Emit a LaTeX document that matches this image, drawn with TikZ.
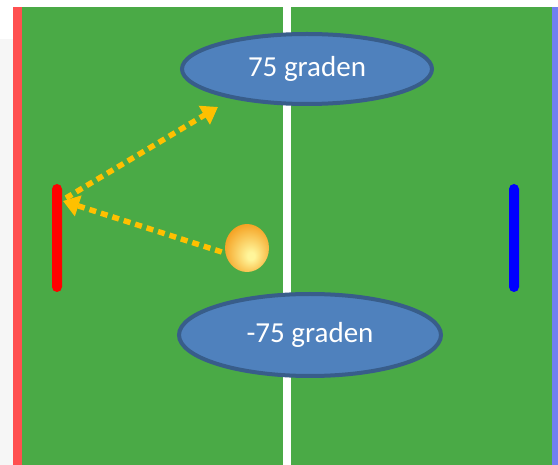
\documentclass[tikz,border=0pt]{standalone}
\usepackage{fontspec}
\setmainfont{Carlito}
\usetikzlibrary{arrows.meta,shapes.geometric}
\definecolor{field}{HTML}{4AAA46}
\definecolor{redstrip}{HTML}{FF5050}
\definecolor{bluestrip}{HTML}{7080F0}
\definecolor{ellfill}{HTML}{4F81BD}
\definecolor{elldraw}{HTML}{385D8A}
\definecolor{arrowc}{HTML}{FFC000}
\definecolor{ballin}{HTML}{FFF59A}
\definecolor{ballout}{HTML}{F5A020}
\definecolor{sidegray}{HTML}{F6F6F6}
\pgfdeclareradialshading{ballsh}{\pgfpoint{5bp}{-9bp}}{color(0bp)=(ballin); color(4bp)=(ballin); color(30bp)=(ballout); color(50bp)=(ballout)}
\tikzset{
  label ellipse/.style={ellipse, draw=elldraw, line width=4pt, fill=ellfill, text=white, font=\fontsize{29}{32}\selectfont, inner sep=0pt},
  paddle/.style={rectangle, rounded corners=5pt, minimum width=10pt, inner sep=0pt, draw=none},
  dotarrow/.style={arrowc, line width=5.5pt, dash pattern=on 7pt off 5pt, -{Triangle[width=21pt,length=16pt]}},
}
\begin{document}
\begin{tikzpicture}[x=1pt,y=-1pt]
\useasboundingbox (0,0) rectangle (558,465);
\fill[white] (0,0) rectangle (558,465);
\fill[sidegray] (0,39) rectangle (13,465);
\fill[field] (13,7) rectangle (558,465);
\fill[redstrip] (13,7) rectangle (22,465);
\fill[bluestrip] (552,7) rectangle (558,465);
\fill[white] (283,7) rectangle (291,465);
% paddles
\node[paddle, fill=red, minimum height=108pt] (redp) at (57,238) {};
\node[paddle, fill=blue, minimum height=108pt] (bluep) at (514,238) {};
% label ellipses
\node[label ellipse, minimum width=250pt, minimum height=70pt] (top) at (307,69) {75 graden};
\node[label ellipse, minimum width=262pt, minimum height=82pt] (bot) at (310,335) {-75 graden};
% ball
\node[ellipse, minimum width=44pt, minimum height=48pt, inner sep=0pt, shading=ballsh] (ball) at (247,248) {};
% arrows
\coordinate (hit) at (63,201);
\coordinate (aim) at (218,107);
\draw[dotarrow] (ball.west) ++(-3,4) -- (hit);
\draw[dotarrow] (hit) ++(3,-3) -- (aim);
\end{tikzpicture}
\end{document}
